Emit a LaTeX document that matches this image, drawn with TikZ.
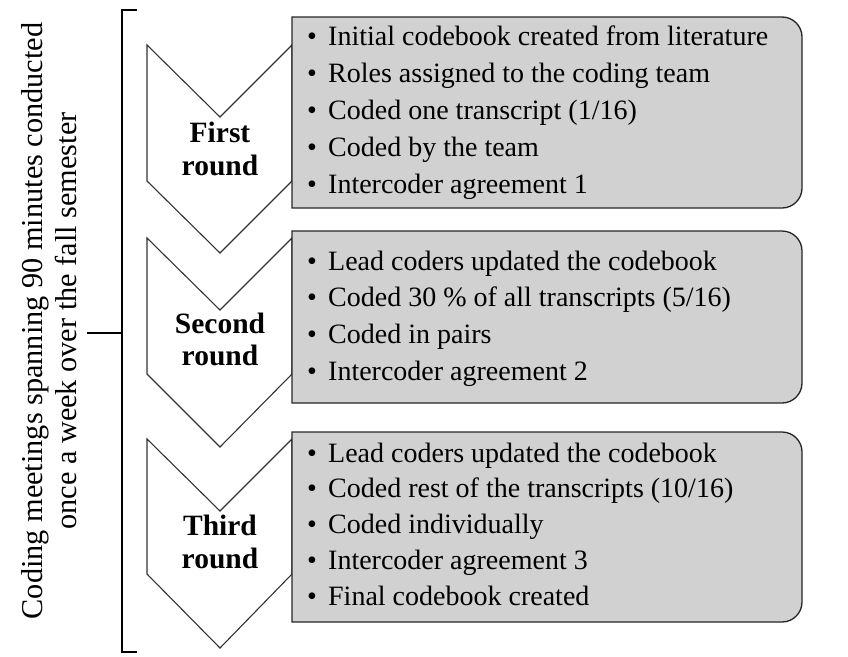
\documentclass[tikz,border=0pt]{standalone}
\usepackage{fontspec}
\setmainfont{Liberation Serif}
\definecolor{boxgray}{RGB}{209,209,209}
\begin{document}
\begin{tikzpicture}[x=1pt,y=-1pt,
  chev/.style={draw=black!80,line width=1.1pt,fill=white,line join=miter},
  infobox/.style={draw=black!85,line width=1.3pt,fill=boxgray},
  item/.style={anchor=base west,inner sep=0pt,font=\fontsize{28}{34}\selectfont},
  lbl/.style={anchor=base,inner sep=0pt,font=\fontsize{29.5}{34}\selectfont\bfseries},
  side/.style={anchor=base,inner sep=0pt,rotate=90,font=\fontsize{30.3}{36}\selectfont},
  brk/.style={line width=2.2pt,line cap=butt}]
\useasboundingbox (0,0) rectangle (848,656);

% chevrons
\draw[chev] (147,45) -- (220,117) -- (292,45) -- (292,181) -- (220,253) -- (147,181) -- cycle;
\draw[chev] (147,238) -- (220,310) -- (292,238) -- (292,374) -- (220,447) -- (147,374) -- cycle;
\draw[chev] (147,439) -- (220,511) -- (292,439) -- (292,574) -- (220,648) -- (147,574) -- cycle;

% boxes
\draw[infobox] (292,17) [rounded corners=20pt] -- (802,17) -- (802,208) [sharp corners] -- (292,208) -- cycle;
\draw[infobox] (292,231) [rounded corners=20pt] -- (802,231) -- (802,403) [sharp corners] -- (292,403) -- cycle;
\draw[infobox] (292,432) [rounded corners=20pt] -- (802,432) -- (802,622) [sharp corners] -- (292,622) -- cycle;

% box texts
\foreach \t [count=\i from 0] in {Initial codebook created from literature, Roles assigned to the coding team, Coded one transcript (1/16), Coded by the team, Intercoder agreement 1}
  \node[item] (ba\i) at (307,{45+37*\i}) {\makebox[21pt][l]{\textbullet}\t};
\foreach \t [count=\i from 0] in {Lead coders updated the codebook, Coded 30 \% of all transcripts (5/16), Coded in pairs, Intercoder agreement 2}
  \node[item] (bb\i) at (307,{270+36.7*\i}) {\makebox[21pt][l]{\textbullet}\t};
\foreach \t [count=\i from 0] in {Lead coders updated the codebook, Coded rest of the transcripts (10/16), Coded individually, Intercoder agreement 3, Final codebook created}
  \node[item] (bc\i) at (307,{462+35.8*\i}) {\makebox[21pt][l]{\textbullet}\t};

% chevron labels
\node[lbl] (l1a) at (220,142) {First};
\node[lbl] (l1b) at (220,175) {round};
\node[lbl] (l2a) at (220,333) {Second};
\node[lbl] (l2b) at (220,365) {round};
\node[lbl] (l3a) at (220,535) {Third};
\node[lbl] (l3b) at (220,568) {round};

% bracket
\draw[brk] (137,10) -- (122,10) -- (122,652) -- (137,652);
\draw[brk] (87,333) -- (122,333);

% side text
\node[side] (s1) at (42,321) {Coding meetings spanning 90 minutes conducted};
\node[side] (s2) at (76,321) {once a week over the fall semester};
\end{tikzpicture}
\end{document}
